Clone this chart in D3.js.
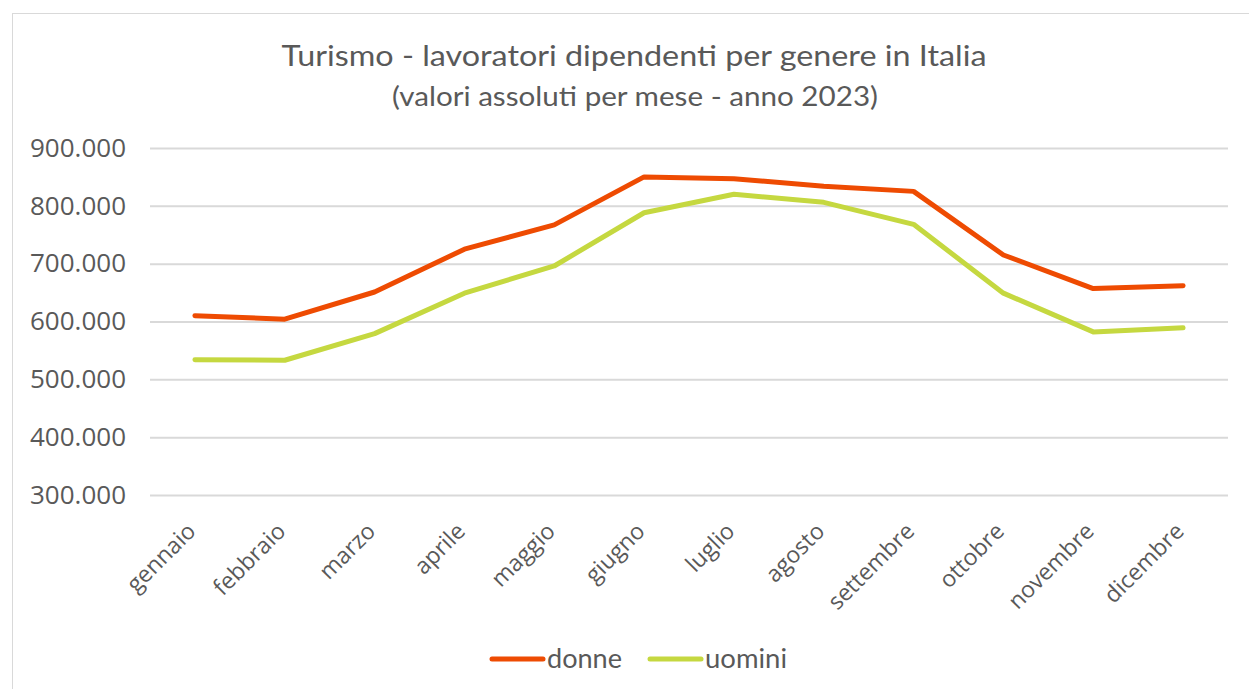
<!DOCTYPE html>
<html>
<head>
<meta charset="utf-8">
<script src="https://cdn.jsdelivr.net/npm/d3@7"></script>
<style>
  body { margin: 0; background: #fff; }
  svg { font-family: Lato, "Open Sans", sans-serif; }
  .asse text { font-family: "Open Sans", sans-serif; }
</style>
</head>
<body>
<svg id="chart" width="1249" height="689"></svg>
<script>
const months = ["gennaio", "febbraio", "marzo", "aprile", "maggio", "giugno",
  "luglio", "agosto", "settembre", "ottobre", "novembre", "dicembre"];
const donne = [610000, 604000, 651000, 725000, 767000, 850000, 847000, 834000, 825000, 715000, 657000, 662000];
const uomini = [534000, 533000, 579000, 649000, 696000, 788000, 820000, 806000, 768000, 649000, 582000, 589000];
const yTicks = [300000, 400000, 500000, 600000, 700000, 800000, 900000];
const series = [
  { name: "donne", values: donne, color: "#EE4B02" },
  { name: "uomini", values: uomini, color: "#C5D840" }
];

const width = 1249, height = 689;
const margin = { top: 148, right: 21, bottom: 194, left: 150 };
const textColor = "#595959";

const svg = d3.select("#chart");

// cornice del grafico
svg.append("rect")
  .attr("x", 12.5).attr("y", 13.5)
  .attr("width", 1260).attr("height", 700)
  .attr("fill", "#fff")
  .attr("stroke", "#d9d9d9");

// titolo
svg.append("text")
  .attr("x", 634).attr("y", 66)
  .attr("text-anchor", "middle")
  .attr("font-size", 29)
  .attr("textLength", 705)
  .attr("lengthAdjust", "spacingAndGlyphs")
  .attr("fill", textColor)
  .text("Turismo - lavoratori dipendenti per genere in Italia");

svg.append("text")
  .attr("x", 635).attr("y", 106)
  .attr("text-anchor", "middle")
  .attr("font-size", 26)
  .attr("textLength", 486)
  .attr("lengthAdjust", "spacingAndGlyphs")
  .attr("fill", textColor)
  .text("(valori assoluti per mese - anno 2023)");

const x = d3.scalePoint()
  .domain(months)
  .range([margin.left, width - margin.right])
  .padding(0.5);

const y = d3.scaleLinear()
  .domain([300000, 900000])
  .range([height - margin.bottom, margin.top]);

const fmt = d => d3.format(",")(d).replace(/,/g, ".");

// griglia
svg.append("g")
  .attr("transform", `translate(${margin.left},0)`)
  .call(d3.axisLeft(y).tickValues(yTicks).tickSize(-(width - margin.left - margin.right)).tickFormat(""))
  .call(g => g.select(".domain").remove())
  .call(g => g.selectAll("line").attr("stroke", "#d9d9d9").attr("stroke-width", 2));

// asse Y
svg.append("g")
  .attr("class", "asse")
  .attr("transform", `translate(${margin.left - 21},0)`)
  .call(d3.axisLeft(y).tickValues(yTicks).tickSize(0).tickFormat(fmt))
  .call(g => g.select(".domain").remove())
  .call(g => g.selectAll("text")
    .attr("font-size", 26)
    .attr("fill", textColor));

// asse X
svg.append("g")
  .attr("class", "asse")
  .attr("transform", `translate(0,${height - margin.bottom})`)
  .call(d3.axisBottom(x).tickSize(0))
  .call(g => g.select(".domain").remove())
  .call(g => g.selectAll("text")
    .attr("font-size", 23)
    .attr("fill", textColor)
    .attr("text-anchor", "end")
    .attr("x", 0).attr("y", 0)
    .attr("dy", "0.35em")
    .attr("transform", "translate(-4,32) rotate(-45)"));

// linee
const line = d3.line()
  .x((d, i) => x(months[i]))
  .y(d => y(d));

svg.selectAll(".serie")
  .data(series)
  .enter().append("path")
  .attr("class", "serie")
  .attr("d", d => line(d.values))
  .attr("fill", "none")
  .attr("stroke", d => d.color)
  .attr("stroke-width", 5)
  .attr("stroke-linecap", "round")
  .attr("stroke-linejoin", "round");

// legenda
const legend = svg.append("g").attr("transform", "translate(490,659)");
const legendX = [0, 158];
const legendW = [75, 82];
series.forEach((s, i) => {
  const g = legend.append("g").attr("transform", `translate(${legendX[i]},0)`);
  g.append("line")
    .attr("x1", 2).attr("x2", 53)
    .attr("stroke", s.color)
    .attr("stroke-width", 5)
    .attr("stroke-linecap", "round");
  g.append("text")
    .attr("x", 57).attr("y", 0)
    .attr("dy", "0.35em")
    .attr("font-size", 26)
    .attr("textLength", legendW[i])
    .attr("lengthAdjust", "spacingAndGlyphs")
    .attr("fill", textColor)
    .text(s.name);
});
</script>
</body>
</html>
